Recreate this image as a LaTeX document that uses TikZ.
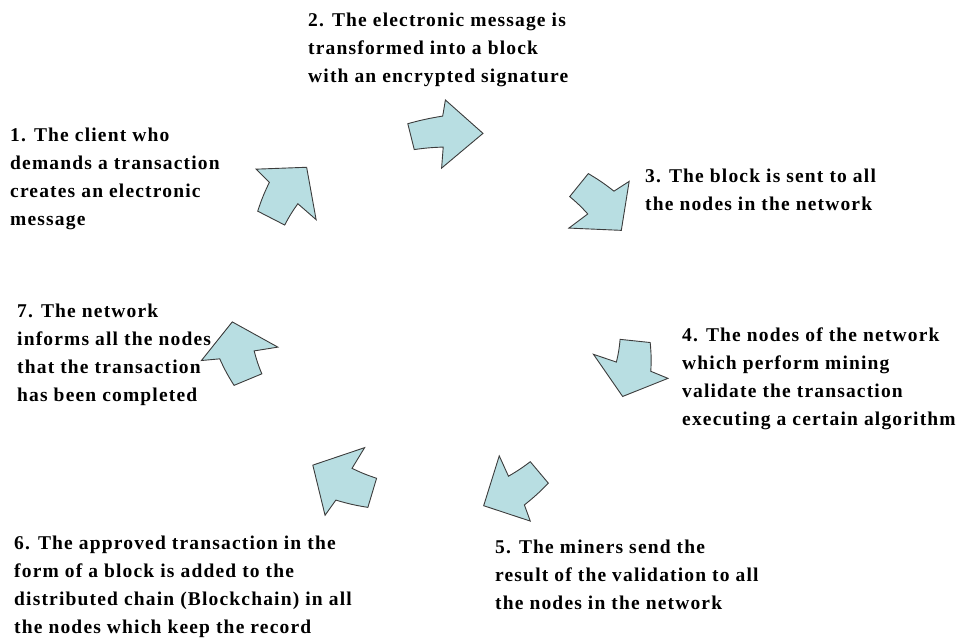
\documentclass[tikz,border=0pt]{standalone}
\usepackage{fontspec}
\setmainfont{Liberation Serif}[LetterSpace=6]
\definecolor{arrowfill}{HTML}{B8DEE2}
\definecolor{arrowline}{HTML}{3C3C3C}
\tikzset{
  steptext/.style={anchor=north west,inner sep=0pt,align=left,
    font=\fontsize{19.5}{28}\selectfont\bfseries},
  cycarrow/.pic={
    \draw[arrowline,fill=arrowfill,line width=0.9pt]
      (36,0) -- (-1,-34) -- (-4,-18) to[bend right=3] (-39,-11)
      -- (-33,15) to[bend left=3] (-4,13) -- (-6,34) -- cycle;
  }
}
\begin{document}
\begin{tikzpicture}[x=1pt,y=-1pt]
\useasboundingbox (0,0) rectangle (962,639);

% the seven steps
\node[steptext] (s1) at (10,128) {1. The client who\\demands a transaction\\creates an electronic\\message};
\node[steptext] (s2) at (308,13) {2. The electronic message is\\transformed into a block\\with an encrypted signature};
\node[steptext] (s3) at (645,169) {3. The block is sent to all\\the nodes in the network};
\node[steptext] (s4) at (682,328) {4. The nodes of the network\\which perform mining\\validate the transaction\\executing a certain algorithm};
\node[steptext] (s5) at (495,540) {5. The miners send the\\result of the validation to all\\the nodes in the network};
\node[steptext] (s6) at (14,536) {6. The approved transaction in the\\form of a block is added to the\\distributed chain (Blockchain) in all\\the nodes which keep the record};
\node[steptext] (s7) at (17,304) {7. The network\\informs all the nodes\\that the transaction\\has been completed};

% curved arrows round the cycle
\foreach \cx/\cy/\ang/\len/\wid [count=\i] in
  {288/192/53/0.86/1.15, 447/134/1/1/1, 601/207/-49/0.86/1.12,
   630/369/-105/0.79/1.15, 512/490/209/0.9/1.06, 342/480/153/0.91/1.15,
   239/351/103/0.83/1.14}
  \pic (a\i) [rotate=\ang,xscale=\len,yscale=\wid] at (\cx,\cy) {cycarrow};
\end{tikzpicture}
\end{document}
